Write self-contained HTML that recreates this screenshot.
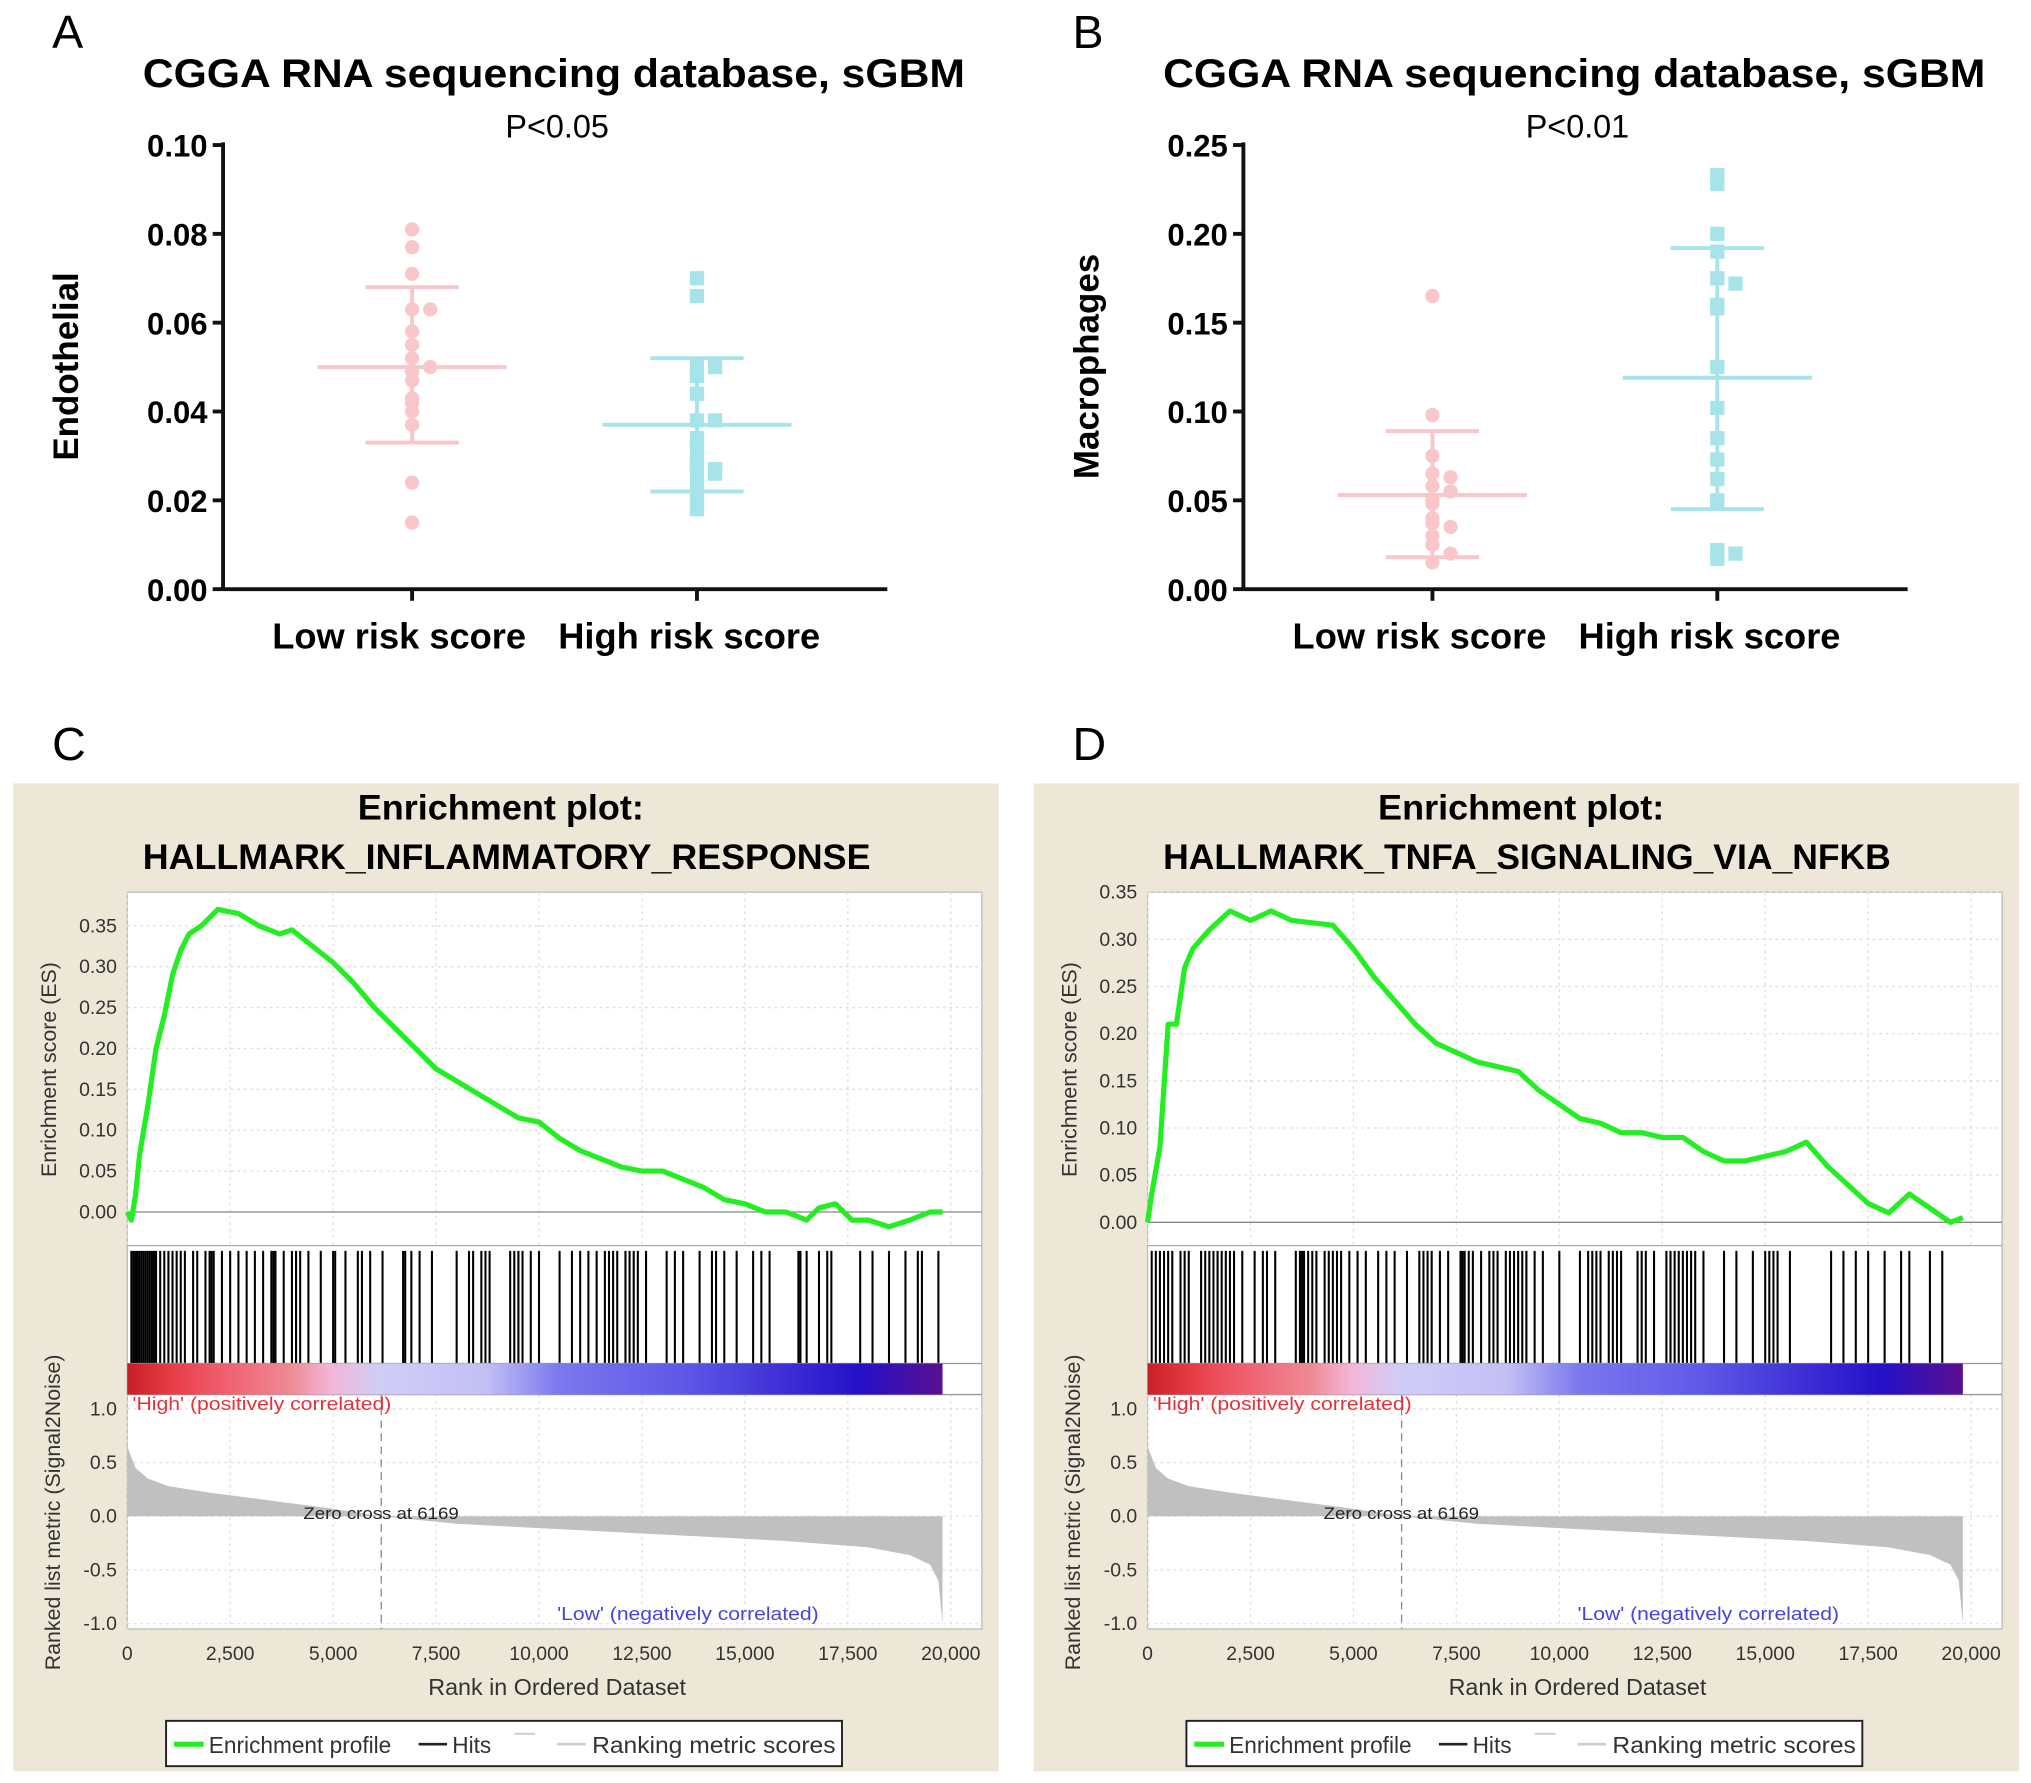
<!DOCTYPE html>
<html><head><meta charset="utf-8"><style>
html,body{margin:0;padding:0;background:#fff}
svg{display:block}
text{font-family:"Liberation Sans",Arial,sans-serif}
</style></head><body>
<svg id="fig" width="2031" height="1783" viewBox="0 0 1568 1377" xmlns="http://www.w3.org/2000/svg">
<g id="root"></g>
</svg>
<script>
// ---------- Panel A/B data ----------
const catLabels = ["Low risk score", "High risk score"];
const aLow = [0.081,0.077,0.071,0.063,0.063,0.058,0.055,0.052,0.050,0.049,0.047,0.043,0.042,0.040,0.037,0.024,0.015];
const aHigh = [0.070,0.066,0.050,0.050,0.048,0.044,0.038,0.038,0.034,0.032,0.029,0.028,0.027,0.026,0.026,0.023,0.020,0.018];
const aLowStats = [0.050,0.068,0.033];
const aHighStats = [0.037,0.052,0.022];
const aTicks = [0,0.02,0.04,0.06,0.08,0.10];
const bLow = [0.165,0.098,0.075,0.065,0.063,0.058,0.055,0.050,0.048,0.040,0.037,0.035,0.030,0.025,0.020,0.015];
const bHigh = [0.233,0.228,0.200,0.190,0.175,0.172,0.160,0.158,0.125,0.102,0.085,0.073,0.062,0.050,0.048,0.022,0.020,0.017];
const bLowStats = [0.053,0.089,0.018];
const bHighStats = [0.119,0.192,0.045];
const bTicks = [0,0.05,0.10,0.15,0.20,0.25];
// ---------- GSEA data ----------
const cRanks = [0,100,200,300,500,700,900,1100,1300,1500,1800,2200,2700,3200,3700,4000,4500,5000,5500,6000,6500,7000,7500,8000,8500,9000,9500,10000,10500,11000,11500,12000,12500,13000,13500,14000,14500,15000,15500,16000,16500,16800,17200,17600,18000,18500,19000,19500,19800];
const cES = [0,-0.01,0.02,0.07,0.13,0.20,0.24,0.29,0.32,0.34,0.35,0.37,0.365,0.35,0.34,0.345,0.325,0.305,0.28,0.25,0.225,0.20,0.175,0.16,0.145,0.13,0.115,0.11,0.09,0.075,0.065,0.055,0.05,0.05,0.04,0.03,0.015,0.01,0,0,-0.01,0.005,0.01,-0.01,-0.01,-0.018,-0.01,0,0];
const dRanks = [0,100,300,500,700,900,1100,1500,2000,2500,3000,3500,4500,5000,5500,6000,6500,7000,7500,8000,8500,9000,9500,10000,10500,11000,11500,12000,12500,13000,13500,14000,14500,15000,15500,16000,16500,17000,17500,18000,18500,19000,19500,19800];
const dES = [0,0.03,0.08,0.21,0.21,0.27,0.29,0.31,0.33,0.32,0.33,0.32,0.315,0.29,0.26,0.235,0.21,0.19,0.18,0.17,0.165,0.16,0.14,0.125,0.11,0.105,0.095,0.095,0.09,0.09,0.075,0.065,0.065,0.07,0.075,0.085,0.06,0.04,0.02,0.01,0.03,0.015,0,0.005];
const cHits = [100,150,200,250,300,350,400,450,500,550,600,650,700,800,900,1000,1100,1200,1300,1400,1600,1700,1900,2000,2050,2100,2300,2500,2700,2900,3100,3300,3500,3550,3600,3800,4000,4100,4200,4400,4700,5000,5050,5300,5600,5700,5900,6200,6700,6750,6900,7100,7400,8000,8300,8400,8600,8700,8800,9300,9400,9500,9600,9800,10000,10500,10800,11000,11200,11400,11600,11700,11800,11900,12100,12200,12300,12400,12600,13100,13300,13500,13900,14200,14300,14500,14800,15200,15400,15600,16300,16350,16500,16800,17000,17100,17800,18100,18500,18900,19200,19300,19700];
const dHits = [100,200,300,400,500,600,800,900,1000,1300,1400,1500,1600,1700,1800,1900,2000,2100,2300,2600,2800,2900,3100,3600,3700,3750,3800,3900,4000,4100,4300,4400,4500,4600,4700,4900,5100,5300,5600,5800,6000,6300,6600,6700,6800,6900,7100,7300,7600,7650,7700,7800,7900,8100,8300,8400,8500,8700,8800,8900,9000,9100,9200,9400,9600,10000,10500,10700,10800,10900,11000,11200,11300,11400,11500,11900,12000,12100,12300,12600,12700,12800,12900,13000,13100,13200,13300,13500,14000,14300,14700,15000,15100,15200,15300,15600,16600,16900,17200,17500,17900,18300,18500,19000,19300];
const metricRanks = [0,200,500,1000,2000,3000,4000,5000,6169,8000,10000,12000,14000,16000,18000,19000,19500,19700,19800];
const metricVals = [0.65,0.45,0.35,0.28,0.22,0.17,0.12,0.07,0,-0.07,-0.11,-0.15,-0.19,-0.23,-0.29,-0.36,-0.45,-0.6,-1.0];
const esTicksC = [0,0.05,0.10,0.15,0.20,0.25,0.30,0.35];
const rankTicks = [0,2500,5000,7500,10000,12500,15000,17500,20000];
const metricTicks = [1.0,0.5,0.0,-0.5,-1.0];
const colorStops = [["#c81e28",0],["#e8404a",0.06],["#f06070",0.12],["#ee8a94",0.2],["#f4b6d8",0.25],["#cfcdf6",0.31],["#c3c0f5",0.44],["#7a78ee",0.53],["#5f58e8",0.68],["#2410c8",0.9],["#5a1090",1]];

const NS="http://www.w3.org/2000/svg";
const root=document.getElementById('root');
function mk(tag,attrs,parent,txt){const e=document.createElementNS(NS,tag);for(const k in attrs)e.setAttribute(k,attrs[k]);if(txt!==undefined)e.textContent=txt;(parent||root).appendChild(e);return e;}

// ---------- dot plots ----------
function dotPanel(ox,letter,ylab,pText,ticks,ymax,lo,hi,loS,hiS){
  const g=mk('g',{});
  
  
  const L=mk('text',{x:ox+40,y:37,'font-size':36},g,letter);
  
  const t=mk('text',{x:ox+110,y:67,'font-size':31,'font-weight':'bold',textLength:635,lengthAdjust:'spacingAndGlyphs'},g,'CGGA RNA sequencing database, sGBM');
  
  const p=mk('text',{x:ox+430,y:106,'font-size':25,'text-anchor':'middle'},g,pText);
  
  const ax=ox+172,y0=455,y1=112,x1=ox+685;
  const ys=v=>y0-(v/ymax)*(y0-y1);
  mk('line',{x1:ax,y1:y1-2,x2:ax,y2:y0,stroke:'#111','stroke-width':3},g);
  mk('line',{x1:ax,y1:y0,x2:x1,y2:y0,stroke:'#111','stroke-width':3},g);
  ticks.forEach(v=>{
    const tk=mk('line',{x1:ax-8,y1:ys(v),x2:ax,y2:ys(v),stroke:'#111','stroke-width':3},g);
    
    const tl=mk('text',{x:ax-12,y:ys(v)+9,'font-size':24,'font-weight':'bold','text-anchor':'end'},g,v.toFixed(2));
    
  });
  const yl=mk('text',{transform:`translate(${ox+60},283) rotate(-90)`,'font-size':27,'font-weight':'bold','text-anchor':'middle'},g,ylab);
  
  const cx=[ox+318,ox+538];
  catLabels.forEach((c,i)=>{
    mk('line',{x1:cx[i],y1:y0,x2:cx[i],y2:y0+9,stroke:'#111','stroke-width':3},g);
    const xl=mk('text',{x:cx[i]-10+i*4,y:501,'font-size':28,'font-weight':'bold','text-anchor':'middle'},g,c);
    
  });
  const groups=[[lo,loS,'#f9c6ca','circle'],[hi,hiS,'#a6e4ea','square']];
  groups.forEach((gr,i)=>{
    const [vals,st,col,shape]=gr;const c=cx[i];
    const used={};
    vals.forEach((v,j)=>{
      const key=Math.round(ys(v)/8);used[key]=(used[key]||0)+1;
      const n=used[key];const off=n===1?0:(n%2===0?1:-1)*Math.ceil((n-1)/2)*14;
      const y=ys(v);let m;
      if(shape==='circle')m=mk('circle',{cx:c+off,cy:y,r:5.5,fill:col},g);
      else m=mk('rect',{x:c+off-5.5,y:y-5.5,width:11,height:11,fill:col},g);
      
      
    });
    const mean=mk('line',{x1:c-73,x2:c+73,y1:ys(st[0]),y2:ys(st[0]),stroke:col,'stroke-width':3},g);
    
    const e=mk('line',{x1:c,x2:c,y1:ys(st[1]),y2:ys(st[2]),stroke:col,'stroke-width':3},g);
    
    [st[1],st[2]].forEach(v=>{const cap=mk('line',{x1:c-36,x2:c+36,y1:ys(v),y2:ys(v),stroke:col,'stroke-width':3},g);});
  });
}
dotPanel(0,'A','Endothelial','P<0.05',aTicks,0.10,aLow,aHigh,aLowStats,aHighStats);
dotPanel(788,'B','Macrophages','P<0.01',bTicks,0.25,bLow,bHigh,bLowStats,bHighStats);

// ---------- GSEA ----------
function gsea(ox,letter,name,ranks,es,hits,esTop,esTopVal,esZero,esTicks){
  const g=mk('g',{});
  
  
  const L=mk('text',{x:ox+40,y:587,'font-size':36},g,letter);
  
  mk('rect',{x:ox+10,y:605,width:761,height:763,fill:'#ede7d7'},g);
  const t1=mk('text',{x:ox+276,y:633,'font-size':27,'font-weight':'bold',textLength:221,lengthAdjust:'spacingAndGlyphs'},g,'Enrichment plot:');
  
  const t2=mk('text',{x:ox+110,y:671,'font-size':27,'font-weight':'bold',textLength:562,lengthAdjust:'spacingAndGlyphs'},g,name);
  
  const fx0=ox+98,fx1=ox+758,x0=ox+98,x20=ox+734;
  const xs=r=>x0+r/20000*(x20-x0);
  const fy0=689,hy0=962,cb0=1053,cb1=1077,fy1=1258;
  mk('rect',{x:fx0,y:fy0,width:fx1-fx0,height:fy1-fy0,fill:'#fff',stroke:'#bbb'},g);
  const esY=v=>esZero-(v/esTopVal)*(esZero-esTop);
  const mY=v=>1171-v*83;
  rankTicks.forEach(r=>{
    [[fy0,hy0],[cb1,fy1]].forEach(s=>{mk('line',{x1:xs(r),x2:xs(r),y1:s[0],y2:s[1],stroke:'#ddd','stroke-dasharray':'2,3'},g);});
    const tl=mk('text',{x:xs(r),y:1282,'font-size':15,'text-anchor':'middle',fill:'#333'},g,r.toLocaleString('en-US'));
    
  });
  esTicks.forEach(v=>{
    mk('line',{x1:fx0,x2:fx1,y1:esY(v),y2:esY(v),stroke:'#ddd','stroke-dasharray':'2,3'},g);
    const tl=mk('text',{x:fx0-8,y:esY(v)+5,'font-size':15,'text-anchor':'end',fill:'#333'},g,v.toFixed(2));
    
  });
  metricTicks.forEach(v=>{
    mk('line',{x1:fx0,x2:fx1,y1:mY(v),y2:mY(v),stroke:'#ddd','stroke-dasharray':'2,3'},g);
    const tl=mk('text',{x:fx0-8,y:mY(v)+5,'font-size':15,'text-anchor':'end',fill:'#333'},g,v.toFixed(1));
    
  });
  mk('line',{x1:fx0,x2:fx1,y1:esY(0),y2:esY(0),stroke:'#888'},g);
  mk('line',{x1:fx0,x2:fx1,y1:hy0,y2:hy0,stroke:'#aaa'},g);
  hits.forEach(r=>{const h=mk('line',{x1:xs(r),x2:xs(r),y1:hy0+4,y2:cb0,stroke:'#000','stroke-width':1.6},g);});
  const gid='cg'+letter;
  const defs=mk('defs',{},g);const lg=mk('linearGradient',{id:gid,x1:0,x2:1,y1:0,y2:0},defs);
  colorStops.forEach(s=>mk('stop',{offset:s[1],'stop-color':s[0]},lg));
  mk('line',{x1:fx0,x2:fx1,y1:cb0,y2:cb0,stroke:'#999'},g);
  mk('line',{x1:fx0,x2:fx1,y1:cb1,y2:cb1,stroke:'#999'},g);
  mk('rect',{x:xs(0),y:cb0,width:xs(19800)-xs(0),height:cb1-cb0,fill:`url(#${gid})`},g);
  let d=`M${xs(metricRanks[0])},${mY(0)}`;
  metricRanks.forEach((r,i)=>{d+=` L${xs(r)},${mY(metricVals[i])}`;});
  d+=` L${xs(metricRanks[metricRanks.length-1])},${mY(0)} Z`;
  mk('path',{d:d,fill:'#c0c0c0'},g);
  mk('line',{x1:xs(6169),x2:xs(6169),y1:cb1,y2:fy1,stroke:'#888','stroke-dasharray':'6,4'},g);
  mk('text',{x:ox+234,y:1173,'font-size':13,fill:'#222',textLength:120,lengthAdjust:'spacingAndGlyphs'},g,'Zero cross at 6169');
  mk('text',{x:fx0+4,y:1089,'font-size':14,fill:'#e8303a',textLength:200,lengthAdjust:'spacingAndGlyphs'},g,"'High' (positively correlated)");
  mk('text',{x:ox+430,y:1251,'font-size':14,fill:'#4444e0',textLength:202,lengthAdjust:'spacingAndGlyphs'},g,"'Low' (negatively correlated)");
  let pts=ranks.map((r,i)=>`${xs(r)},${esY(es[i])}`).join(' ');
  mk('polyline',{points:pts,fill:'none',stroke:'#22ee22','stroke-width':4,'stroke-linejoin':'round'},g);
  mk('text',{transform:`translate(${ox+43},826) rotate(-90)`,'font-size':16.5,'text-anchor':'middle',fill:'#333'},g,'Enrichment score (ES)');
  mk('text',{transform:`translate(${ox+46},1168) rotate(-90)`,'font-size':16.5,'text-anchor':'middle',fill:'#333'},g,'Ranked list metric (Signal2Noise)');
  mk('text',{x:ox+430,y:1309,'font-size':18,'text-anchor':'middle',fill:'#333'},g,'Rank in Ordered Dataset');
  const lgG=mk('g',{},g);
  
  
  mk('rect',{x:ox+128,y:1329,width:522,height:35,fill:'#fff',stroke:'#222','stroke-width':1.5},lgG);
  mk('line',{x1:ox+134,x2:ox+157,y1:1347,y2:1347,stroke:'#22ee22','stroke-width':4},lgG);
  mk('text',{x:ox+161,y:1354,'font-size':17.5,fill:'#333'},lgG,'Enrichment profile');
  mk('line',{x1:ox+323,x2:ox+345,y1:1347,y2:1347,stroke:'#222','stroke-width':2},lgG);
  mk('text',{x:ox+349,y:1354,'font-size':17.5,fill:'#333'},lgG,'Hits');
  mk('line',{x1:ox+397,x2:ox+413,y1:1339,y2:1339,stroke:'#ccc','stroke-width':1.5},lgG);
  mk('line',{x1:ox+430,x2:ox+452,y1:1347,y2:1347,stroke:'#ccc','stroke-width':2},lgG);
  mk('text',{x:ox+457,y:1354,'font-size':17.5,fill:'#333',textLength:188,lengthAdjust:'spacingAndGlyphs'},lgG,'Ranking metric scores');
}
gsea(0,'C','HALLMARK_INFLAMMATORY_RESPONSE',cRanks,cES,cHits,715,0.35,936,esTicksC);
gsea(788,'D','HALLMARK_TNFA_SIGNALING_VIA_NFKB',dRanks,dES,dHits,689,0.35,944,esTicksC);
</script>
</body></html>
